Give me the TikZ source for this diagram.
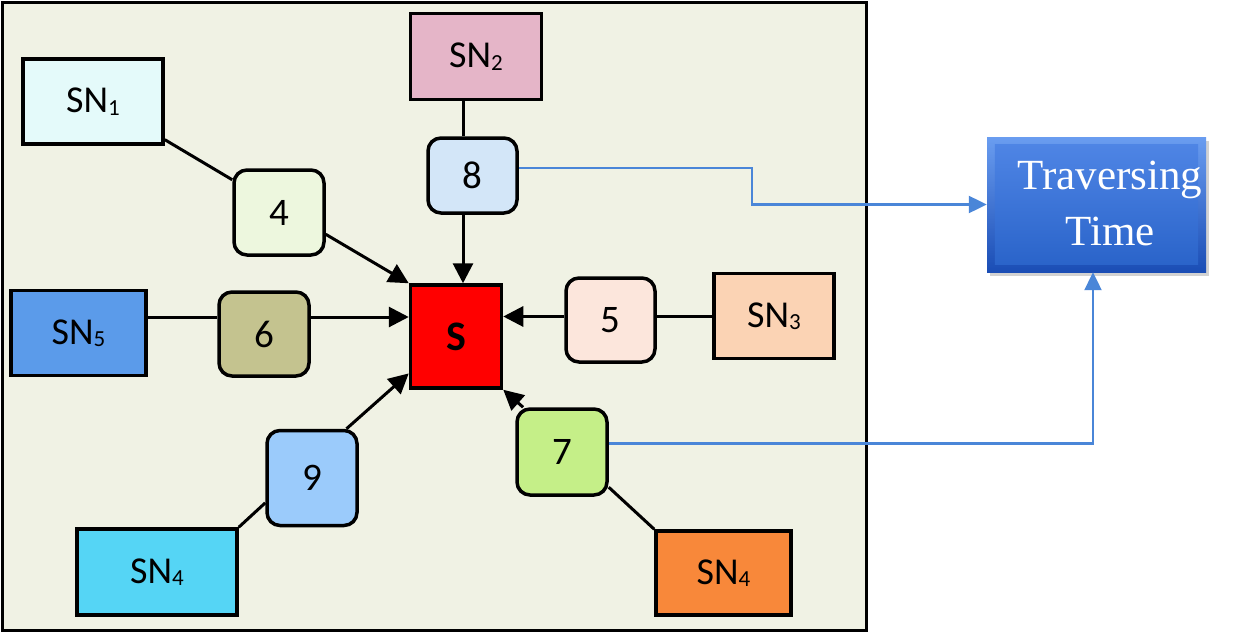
\documentclass[tikz,border=0pt]{standalone}
\usepackage{fontspec}
\setmainfont{Carlito}
\newfontfamily\timesf{Liberation Serif}
\usetikzlibrary{arrows.meta,shadows,calc}
\definecolor{bgc}{HTML}{F0F2E4}
\definecolor{csn1}{HTML}{E4FAFA}
\definecolor{csn2}{HTML}{E5B5C8}
\definecolor{csn3}{HTML}{FBD3B4}
\definecolor{csn5}{HTML}{5B9BEA}
\definecolor{csn4a}{HTML}{55D5F5}
\definecolor{csn4b}{HTML}{F8883A}
\definecolor{cr4}{HTML}{EDF7DE}
\definecolor{cr8}{HTML}{D3E6F8}
\definecolor{cr6}{HTML}{C4C38F}
\definecolor{cr5}{HTML}{FCE6DC}
\definecolor{cr9}{HTML}{9BCBFB}
\definecolor{cr7}{HTML}{C5EF88}
\definecolor{linkblue}{HTML}{4A86D8}
\definecolor{ttblue}{HTML}{2F6FE0}
\definecolor{tttop}{HTML}{6A9DF0}
\definecolor{ttbot}{HTML}{1A4DB5}
\newcommand\subn[1]{\raisebox{-2.5pt}{\fontsize{23}{23}\selectfont #1}}
\tikzset{
  snbox/.style={draw=black,line width=3.5pt,rectangle,inner sep=0pt,font=\fontsize{38}{40}\selectfont},
  relay/.style={draw=black,line width=3.5pt,rectangle,rounded corners=13pt,inner sep=0pt,font=\fontsize{39}{40}\selectfont},
  link/.style={line width=3pt,black},
  tolink/.style={line width=3pt,black,-{Triangle[length=20pt,width=20pt]}},
  bluelink/.style={line width=2.2pt,linkblue,-{Triangle[length=18pt,width=17pt]}},
}
\begin{document}
\begin{tikzpicture}[x=1pt,y=-1pt]
\fill[white] (0,0) rectangle (1250,632);
\useasboundingbox (0,0) rectangle (1250,632);
\draw[fill=bgc,line width=3pt] (2,2) rectangle (866,630);

% sensor nodes
\node[snbox,fill=csn1,minimum width=140pt,minimum height=85pt] (SN1) at (93,101.5) {SN\subn{1}};
\node[snbox,fill=csn2,minimum width=131pt,minimum height=86pt] (SN2) at (476,56.5) {SN\subn{2}};
\node[snbox,fill=csn3,minimum width=120pt,minimum height=85pt] (SN3) at (774,316) {SN\subn{3}};
\node[snbox,fill=csn5,minimum width=135pt,minimum height=85pt] (SN5) at (78.5,333) {SN\subn{5}};
\node[snbox,fill=csn4a,minimum width=160pt,minimum height=86pt] (SN4a) at (157,572) {SN\subn{4}};
\node[snbox,fill=csn4b,minimum width=135pt,minimum height=84pt] (SN4b) at (723.5,573) {SN\subn{4}};

% sink
\node[snbox,fill=red,minimum width=91pt,minimum height=103pt,font=\fontsize{42}{44}\selectfont\bfseries] (S) at (456,336.5) {S};

% relays
\node[relay,fill=cr4,minimum width=90pt,minimum height=85pt] (r4) at (279,212.5) {4};
\node[relay,fill=cr8,minimum width=89pt,minimum height=75pt] (r8) at (472.5,175.5) {8};
\node[relay,fill=cr6,minimum width=90pt,minimum height=84pt] (r6) at (264,334) {6};
\node[relay,fill=cr5,minimum width=89pt,minimum height=84pt] (r5) at (610.5,320) {5};
\node[relay,fill=cr9,minimum width=90pt,minimum height=95pt] (r9) at (312,478) {9};
\node[relay,fill=cr7,minimum width=90pt,minimum height=86pt] (r7) at (562,452) {7};

% traversing time
\node[draw=none,rectangle,minimum width=219pt,minimum height=135pt,
      top color=tttop,bottom color=ttbot,
      drop shadow={shadow xshift=3pt,shadow yshift=-4pt,opacity=0.35}] (TT) at (1096.5,204.5) {};
\shade[top color=ttblue!85!white,bottom color=ttblue!90!black] ($(TT.north west)+(8,8)$) rectangle ($(TT.south east)+(-8,-8)$);
\node[align=center,text=white,font=\timesf\fontsize{43}{56}\selectfont] (TTt) at (1110,203) {Traversing\\Time};

% black connectors
\draw[link] (SN1.-28) -- (r4.145);
\draw[tolink] (r4.-25) -- (S.north west);
\coordinate (a8) at ([xshift=-9.5pt]r8.south);
\coordinate (t8) at ([xshift=-9.5pt]r8.north);
\draw[link] (t8) -- (t8 |- SN2.south);
\draw[tolink] (a8) -- (a8 |- S.north);
\coordinate (a6) at ([yshift=17pt]r6.east);
\coordinate (t6) at ([yshift=17pt]r6.west);
\draw[link] (t6) -- (t6 -| SN5.east);
\draw[tolink] (a6) -- (a6 -| S.west);
\coordinate (a5) at ([yshift=3.5pt]r5.west);
\coordinate (t5) at ([yshift=3.5pt]r5.east);
\draw[link] (t5) -- (t5 -| SN3.west);
\draw[tolink] (a5) -- (a5 -| S.east);
\draw[link] (SN4a.north east) -- (r9.208);
\draw[tolink] (r9.55) -- (S.218);
\draw[link] (SN4b.north west) -- (r7.-37);
\draw[tolink] (r7.131) -- (S.south east);

% blue connectors
\coordinate (b8) at ([yshift=7.5pt]r8.east);
\coordinate (m1) at (752,0);
\draw[bluelink] (b8) -- (b8 -| m1) |- (TT.west);
\coordinate (b7) at ([yshift=8.5pt]r7.east);
\draw[bluelink] (b7) -| ([xshift=-3.5pt]TT.south);
\end{tikzpicture}
\end{document}
